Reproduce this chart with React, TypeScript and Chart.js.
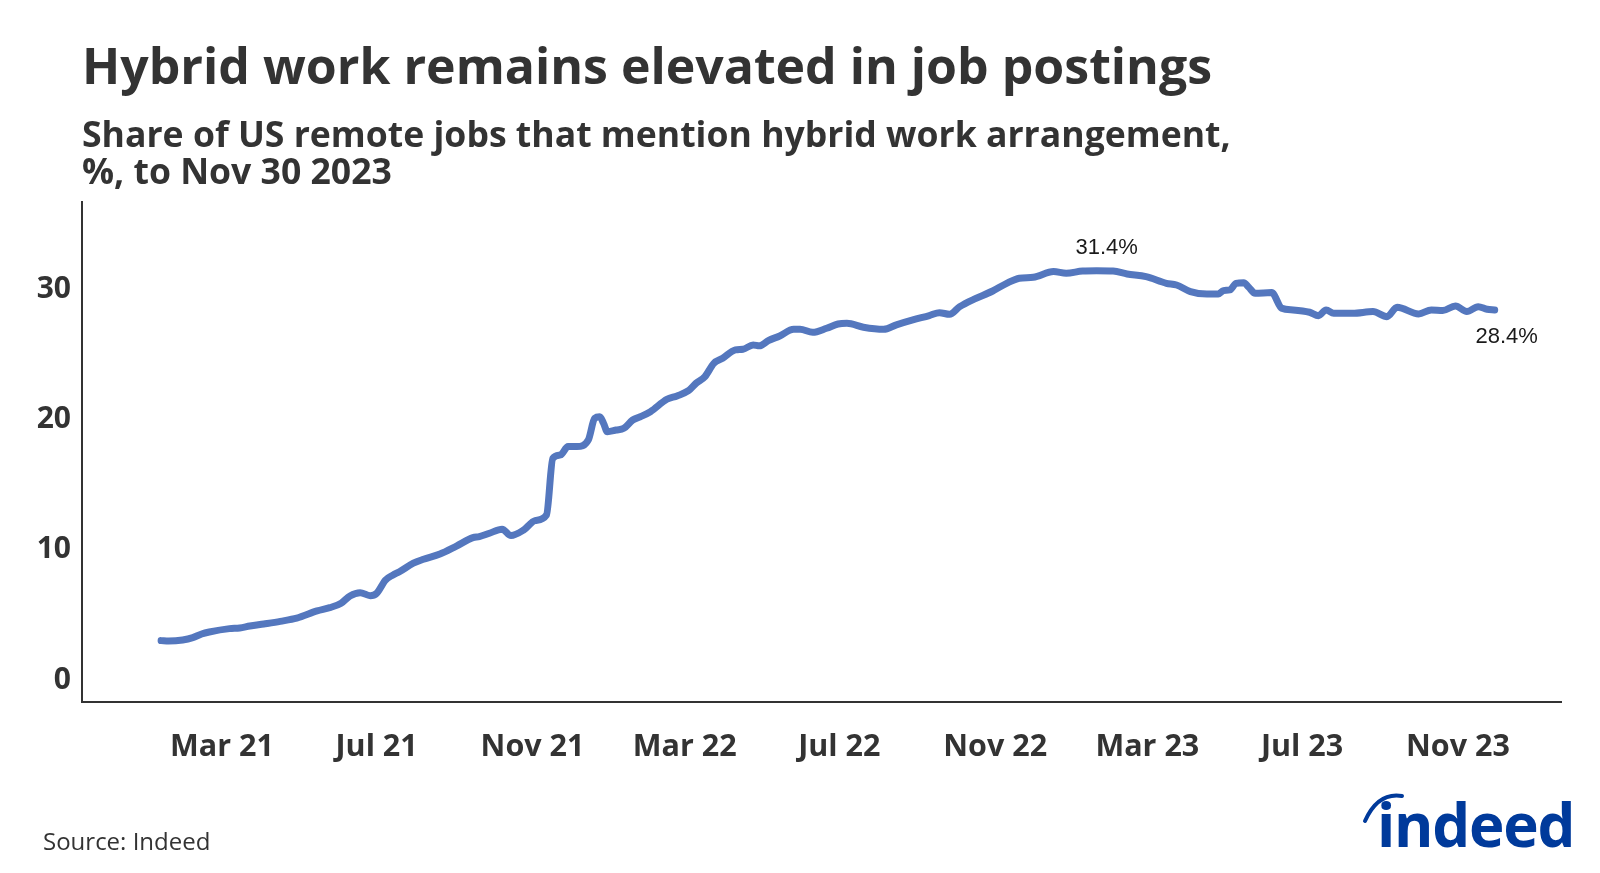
import React, { useEffect, useRef } from "react";
import { Chart, registerables } from "chart.js";

Chart.register(...registerables);

// ---- data ----
const dates: string[] = [
  "2021-01-12","2021-01-18","2021-01-29","2021-02-06","2021-02-13","2021-02-19",
  "2021-03-07","2021-03-15","2021-03-23","2021-04-03","2021-04-16","2021-04-29",
  "2021-05-15","2021-05-25","2021-06-03","2021-06-10","2021-06-18","2021-06-26",
  "2021-07-01","2021-07-08","2021-07-14","2021-07-19","2021-07-30","2021-08-07",
  "2021-08-20","2021-09-02","2021-09-15","2021-09-20","2021-09-28","2021-10-08",
  "2021-10-15","2021-10-25","2021-11-03","2021-11-12","2021-11-17","2021-11-23",
  "2021-11-29","2021-12-06","2021-12-15","2021-12-20","2021-12-24","2021-12-27",
  "2021-12-30",
  "2022-01-06","2022-01-12","2022-01-19","2022-01-25","2022-02-02","2022-02-15",
  "2022-02-23","2022-03-04","2022-03-10","2022-03-17","2022-03-24","2022-03-31",
  "2022-04-10","2022-04-16","2022-04-24","2022-04-29","2022-05-06","2022-05-15",
  "2022-05-26","2022-05-31","2022-06-10","2022-06-21","2022-06-30","2022-07-07",
  "2022-07-20","2022-08-05","2022-08-15","2022-08-28","2022-09-10","2022-09-18",
  "2022-09-26","2022-10-04","2022-10-15","2022-10-30","2022-11-10","2022-11-20",
  "2022-12-01","2022-12-17","2022-12-27",
  "2023-01-09","2023-01-20","2023-02-02","2023-02-13","2023-02-28","2023-03-16",
  "2023-03-24","2023-04-04","2023-04-17","2023-04-26","2023-04-30","2023-05-05",
  "2023-05-10","2023-05-16","2023-05-20","2023-05-25","2023-06-07","2023-06-15",
  "2023-06-24","2023-07-07","2023-07-14","2023-07-20","2023-07-26","2023-08-10",
  "2023-08-26","2023-09-06","2023-09-14","2023-10-01","2023-10-11","2023-10-20",
  "2023-10-30","2023-11-08","2023-11-17","2023-11-24","2023-11-30",
];

const hybridShare: number[] = [
  3.02, 2.99, 3.07, 3.25, 3.53, 3.68,
  3.94, 3.99, 4.14, 4.3, 4.5, 4.74,
  5.3, 5.55, 5.89, 6.45, 6.7, 6.47,
  6.65, 7.67, 8.06, 8.31, 8.96, 9.26,
  9.67, 10.28, 10.92, 11.0, 11.26, 11.57,
  11.08, 11.51, 12.23, 12.66, 17.01, 17.27,
  17.91, 17.91, 18.42, 20.08, 20.2, 19.7,
  19.05,
  19.18, 19.31, 19.95, 20.2, 20.59, 21.54,
  21.8, 22.2, 22.77, 23.28, 24.3, 24.69,
  25.33, 25.38, 25.71, 25.64, 26.04, 26.4,
  26.91, 26.91, 26.68, 26.99, 27.32, 27.37,
  27.07, 26.91, 27.25, 27.63, 27.96, 28.19,
  28.06, 28.65, 29.21, 29.85, 30.44, 30.83,
  30.9, 31.34, 31.21,
  31.38, 31.4, 31.38, 31.16, 30.95, 30.44,
  30.31, 29.8, 29.62, 29.62, 29.88, 29.93,
  30.44, 30.49, 30.14, 29.68, 29.73, 28.53,
  28.4, 28.22, 27.96, 28.4, 28.14, 28.14,
  28.27, 27.88, 28.6, 28.09, 28.4, 28.35,
  28.7, 28.27, 28.65, 28.45, 28.4,
];

const tickDates: string[] = [
  "2021-03-01","2021-07-01","2021-11-01","2022-03-01","2022-07-01",
  "2022-11-01","2023-03-01","2023-07-01","2023-11-01",
];
const tickLabels: string[] = [
  "Mar 21","Jul 21","Nov 21","Mar 22","Jul 22","Nov 22","Mar 23","Jul 23","Nov 23",
];
const yTicks: number[] = [0, 10, 20, 30];

// ---- helpers ----
const DAY_MS = 86400000;
const EPOCH = Date.UTC(2021, 0, 1);
const toDay = (s: string) => (Date.parse(s + "T00:00:00Z") - EPOCH) / DAY_MS;

const LINE_COLOR = "#5477be";
const TEXT_COLOR = "#333333";

const labelPlugin = {
  id: "endLabels",
  afterDatasetsDraw(chart: any) {
    const meta = chart.getDatasetMeta(0);
    const ctx = chart.ctx;
    const peakIdx = hybridShare.indexOf(Math.max(...hybridShare));
    const lastIdx = hybridShare.length - 1;
    ctx.save();
    ctx.font = '22px "Liberation Sans", Arial, sans-serif';
    ctx.fillStyle = "#1a1a1a";
    ctx.textAlign = "center";
    ctx.textBaseline = "middle";
    const p = meta.data[peakIdx];
    ctx.fillText(hybridShare[peakIdx].toFixed(1) + "%", p.x + 10, p.y - 23);
    const l = meta.data[lastIdx];
    ctx.fillText(hybridShare[lastIdx].toFixed(1) + "%", l.x + 12, l.y + 27);
    ctx.restore();
  },
};

export default function App() {
  const canvasRef = useRef<HTMLCanvasElement | null>(null);

  useEffect(() => {
    if (!canvasRef.current) return;
    const chart = new Chart(canvasRef.current, {
      type: "line",
      data: {
        datasets: [
          {
            data: dates.map((d, i) => ({ x: toDay(d), y: hybridShare[i] })),
            borderColor: LINE_COLOR,
            borderWidth: 7,
            pointRadius: 0,
            pointHoverRadius: 0,
            cubicInterpolationMode: "monotone",
            borderJoinStyle: "round",
            borderCapStyle: "round",
            fill: false,
          } as any,
        ],
      },
      options: {
        animation: false,
        responsive: false,
        events: [],
        layout: { padding: { top: 202, right: 39, left: 0, bottom: 101 } },
        plugins: {
          legend: { display: false },
          tooltip: { enabled: false },
        },
        scales: {
          x: {
            type: "linear",
            min: -51.4,
            max: 1115.3,
            grid: { display: false, drawTicks: false },
            border: { display: true, color: TEXT_COLOR, width: 2 },
            ticks: {
              color: TEXT_COLOR,
              font: { family: '"Open Sans"', size: 30.5, weight: "bold" },
              padding: 27,
              maxRotation: 0,
              autoSkip: false,
              callback: (_v: any, i: number) => tickLabels[i],
            },
            afterBuildTicks: (s: any) => {
              s.ticks = tickDates.map((d) => ({ value: toDay(d) }));
            },
            afterFit: (s: any) => {
              s.height = 70;
            },
          },
          y: {
            min: -1.69,
            max: 36.68,
            grid: { display: false, drawTicks: false },
            border: { display: true, color: TEXT_COLOR, width: 2 },
            ticks: {
              color: TEXT_COLOR,
              font: { family: '"Open Sans"', size: 30, weight: "bold" },
              padding: 11,
              callback: (v: any) => String(v),
            },
            afterBuildTicks: (s: any) => {
              s.ticks = yTicks.map((v) => ({ value: v }));
            },
            afterFit: (s: any) => {
              s.width = 82;
            },
          },
        },
      } as any,
      plugins: [labelPlugin],
    });
    return () => chart.destroy();
  }, []);

  return (
    <div
      style={{
        position: "absolute",
        left: 0,
        top: 0,
        width: 1600,
        height: 873,
        background: "#ffffff",
        overflow: "hidden",
        fontFamily: '"Open Sans", sans-serif',
      }}
    >
      <canvas
        ref={canvasRef}
        width={1600}
        height={873}
        style={{ position: "absolute", left: 0, top: 0 }}
      />
      <div
        style={{
          position: "absolute",
          left: 82,
          top: 40,
          fontSize: 50,
          lineHeight: "50px",
          fontWeight: 700,
          color: TEXT_COLOR,
          whiteSpace: "nowrap",
        }}
      >
        Hybrid work remains elevated in job postings
      </div>
      <div
        style={{
          position: "absolute",
          left: 82,
          top: 115,
          fontSize: 35.6,
          lineHeight: "37px",
          fontWeight: 700,
          color: TEXT_COLOR,
          whiteSpace: "nowrap",
        }}
      >
        Share of US remote jobs that mention hybrid work arrangement,
        <br />
        %, to Nov 30 2023
      </div>
      <div
        style={{
          position: "absolute",
          left: 43,
          top: 829,
          fontSize: 24,
          lineHeight: "24px",
          fontWeight: 400,
          color: TEXT_COLOR,
          whiteSpace: "nowrap",
        }}
      >
        Source: Indeed
      </div>
      <svg
        width={70}
        height={50}
        style={{ position: "absolute", left: 1350, top: 784 }}
      >
        <path
          d="M 15 37 Q 28 8 52 12"
          stroke="#003A9B"
          strokeWidth={4}
          fill="none"
          strokeLinecap="round"
        />
      </svg>
      <div
        style={{
          position: "absolute",
          left: 1377,
          top: 794,
          fontSize: 60,
          lineHeight: "60px",
          fontWeight: 700,
          color: "#003A9B",
          letterSpacing: "-1.2px",
          whiteSpace: "nowrap",
        }}
      >
        indeed
      </div>
    </div>
  );
}
